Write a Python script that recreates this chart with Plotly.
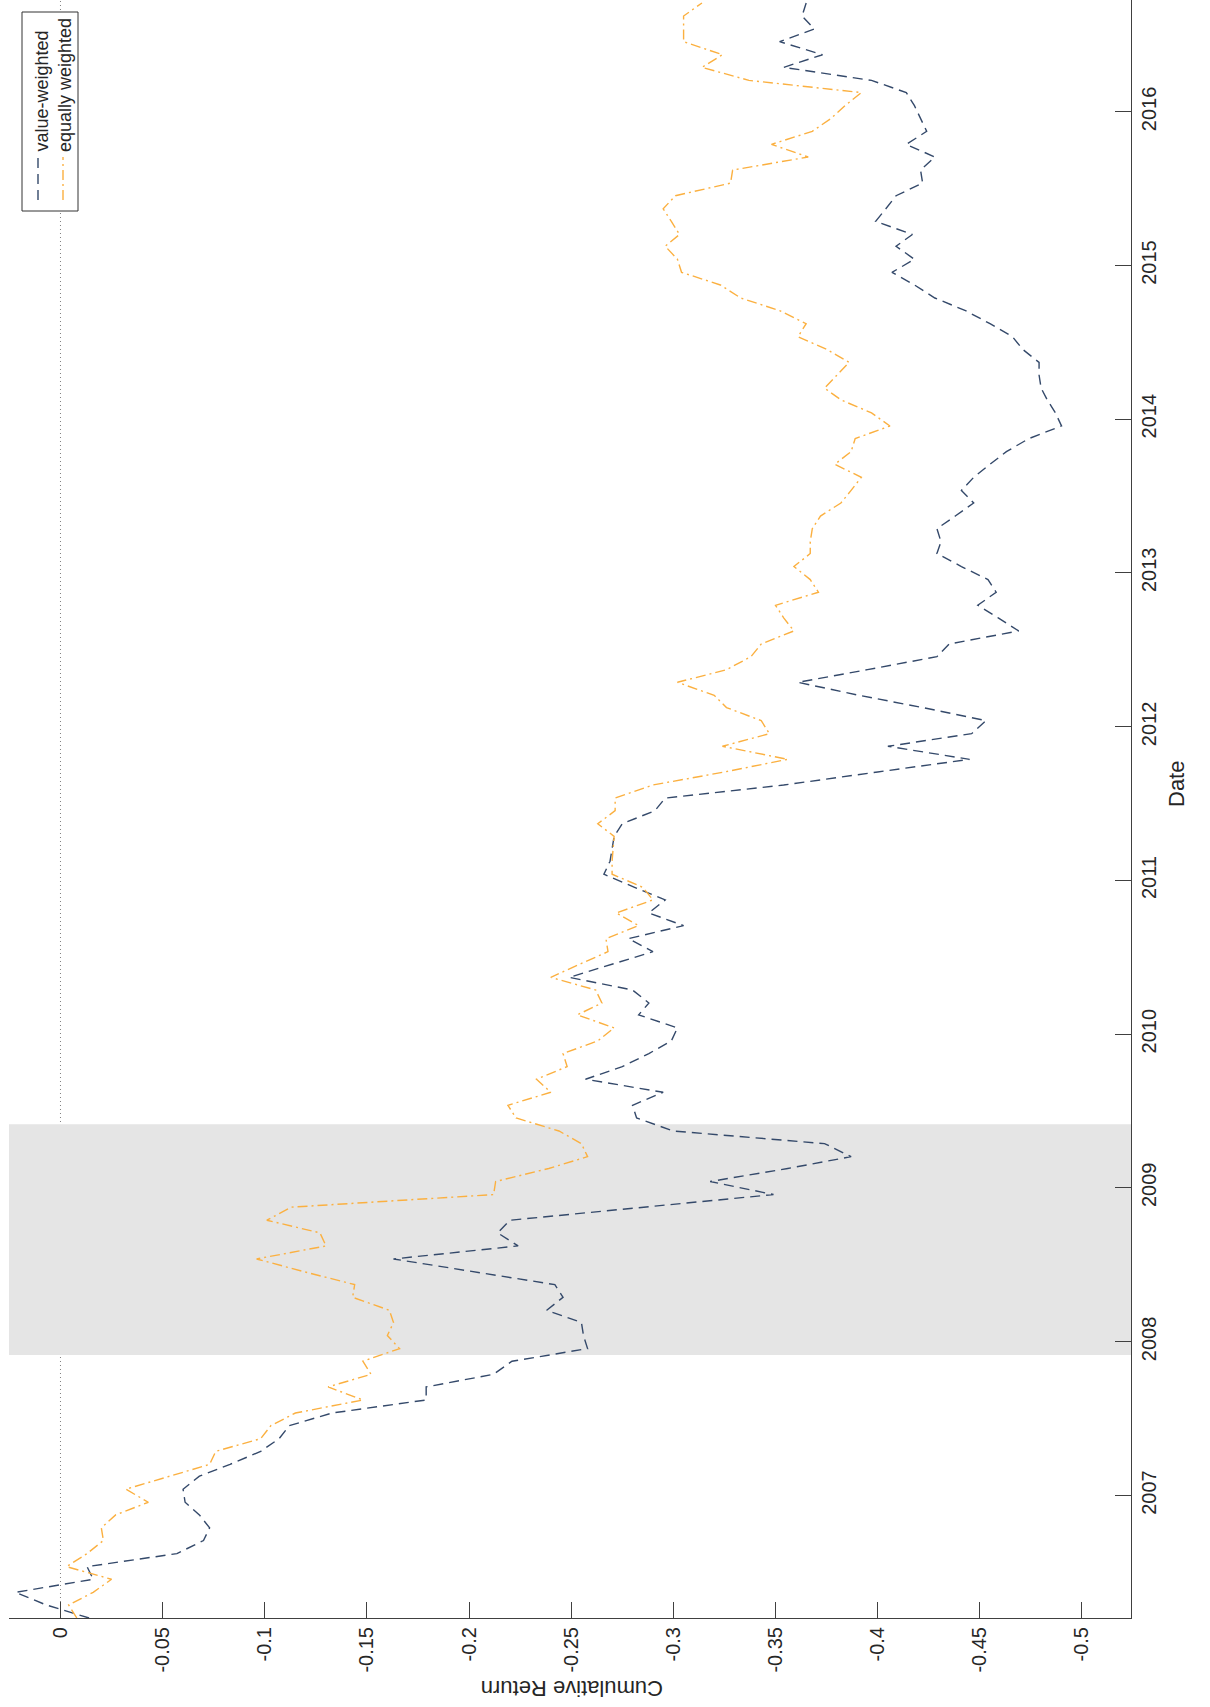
import pandas as pd
import plotly.graph_objects as go

# ---------------- data ----------------
start_month = "2006-03-01"          # first monthly observation (mid-month)

value_weighted = [
    -0.014, 0.007, 0.022, -0.016, -0.013, -0.057, -0.070, -0.073, -0.068, -0.061,
    -0.060, -0.068, -0.083, -0.098, -0.107, -0.112, -0.133, -0.179, -0.179, -0.212,
    -0.221, -0.258, -0.256, -0.255, -0.238, -0.246, -0.242, -0.201, -0.163, -0.224,
    -0.214, -0.220, -0.287, -0.349, -0.318, -0.356, -0.387, -0.374, -0.300, -0.282,
    -0.280, -0.295, -0.257, -0.275, -0.288, -0.299, -0.302, -0.283, -0.288, -0.280,
    -0.249, -0.270, -0.290, -0.278, -0.305, -0.288, -0.296, -0.281, -0.266, -0.269,
    -0.270, -0.271, -0.275, -0.291, -0.296, -0.354, -0.400, -0.445, -0.405, -0.446,
    -0.453, -0.422, -0.391, -0.361, -0.395, -0.429, -0.435, -0.469, -0.459, -0.449,
    -0.458, -0.454, -0.441, -0.429, -0.431, -0.429, -0.438, -0.447, -0.441, -0.447,
    -0.455, -0.463, -0.474, -0.490, -0.487, -0.483, -0.480, -0.479, -0.479, -0.471,
    -0.466, -0.455, -0.443, -0.428, -0.418, -0.407, -0.418, -0.409, -0.417, -0.399,
    -0.404, -0.409, -0.422, -0.421, -0.428, -0.414, -0.424, -0.421, -0.418, -0.414,
    -0.397, -0.354, -0.373, -0.352, -0.369, -0.363, -0.365,
]

equally_weighted = [
    -0.008, -0.004, -0.016, -0.025, -0.003, -0.013, -0.021, -0.020, -0.027, -0.043,
    -0.032, -0.053, -0.073, -0.076, -0.098, -0.103, -0.115, -0.148, -0.131, -0.152,
    -0.148, -0.166, -0.160, -0.163, -0.161, -0.143, -0.144, -0.119, -0.096, -0.130,
    -0.127, -0.101, -0.113, -0.212, -0.213, -0.239, -0.258, -0.255, -0.244, -0.223,
    -0.219, -0.240, -0.233, -0.248, -0.246, -0.263, -0.271, -0.253, -0.265, -0.262,
    -0.240, -0.254, -0.268, -0.267, -0.283, -0.272, -0.290, -0.285, -0.270, -0.270,
    -0.2705, -0.271, -0.263, -0.2715, -0.2715, -0.290, -0.325, -0.356, -0.324, -0.347,
    -0.343, -0.326, -0.320, -0.302, -0.326, -0.338, -0.343, -0.359, -0.354, -0.350,
    -0.371, -0.367, -0.359, -0.367, -0.367, -0.368, -0.372, -0.382, -0.387, -0.392,
    -0.379, -0.387, -0.389, -0.406, -0.397, -0.382, -0.374, -0.380, -0.386, -0.375,
    -0.361, -0.365, -0.352, -0.333, -0.323, -0.304, -0.302, -0.296, -0.303, -0.299,
    -0.295, -0.301, -0.328, -0.329, -0.366, -0.348, -0.368, -0.377, -0.384, -0.392,
    -0.337, -0.314, -0.324, -0.305, -0.305, -0.305, -0.314,
]

recession = ["2007-12-01", "2009-06-01"]
return_ticks = [0, -0.05, -0.1, -0.15, -0.2, -0.25, -0.3, -0.35, -0.4, -0.45, -0.5]
return_tick_labels = ["0", "-0.05", "-0.1", "-0.15", "-0.2", "-0.25", "-0.3",
                      "-0.35", "-0.4", "-0.45", "-0.5"]
date_limits = ["2006-03-16", "2016-09-23"]
return_limits = [0.0252, -0.524]

dates = pd.date_range(start_month, periods=len(value_weighted), freq="MS") + pd.Timedelta(days=15)

# ---------------- styling ----------------
W, H = 1210, 1707
L, R, T, B = 9, 1131, 0, 1618          # plot area in pixels
BLUE = "#34496A"
ORANGE = "#FBB040"
AX = "#404040"
TXT = "#262626"
FONT = "Liberation Sans, Arial, Helvetica, sans-serif"


def px(x):
    return (x - L) / (R - L)


def py(y):
    return (B - y) / (B - T)


fig = go.Figure()
fig.add_trace(go.Scatter(x=value_weighted, y=dates, mode="lines", name="value-weighted",
                         line=dict(color=BLUE, width=1.4, dash="10px,6px"),
                         showlegend=False))
fig.add_trace(go.Scatter(x=equally_weighted, y=dates, mode="lines", name="equally weighted",
                         line=dict(color=ORANGE, width=1.4, dash="10px,4px,2px,4px"),
                         showlegend=False))

shapes = [
    # zero reference line
    dict(type="line", xref="x", yref="paper", x0=0, x1=0, y0=0, y1=1,
         line=dict(color="#808080", width=1, dash="1px,3px"), layer="below"),
    # recession band
    dict(type="rect", xref="paper", yref="y", x0=0, x1=1, y0=recession[0], y1=recession[1],
         fillcolor="#E5E5E5", line=dict(width=0), layer="below"),
    # legend box
    dict(type="rect", xref="paper", yref="paper", x0=px(22), x1=px(78), y0=py(211), y1=py(12),
         fillcolor="white", line=dict(color="#333333", width=1)),
    dict(type="line", xref="paper", yref="paper", x0=px(38), x1=px(38), y0=py(200), y1=py(157),
         line=dict(color=BLUE, width=1.4, dash="10px,6px")),
    dict(type="line", xref="paper", yref="paper", x0=px(63), x1=px(63), y0=py(200), y1=py(157),
         line=dict(color=ORANGE, width=1.4, dash="10px,4px,2px,4px")),
]

annotations = [
    dict(text="Date", xref="paper", yref="paper", x=px(1177), y=py(784), textangle=-90,
         showarrow=False, xanchor="center", yanchor="middle",
         font=dict(family=FONT, size=22, color=TXT)),
    dict(text="Cumulative Return", xref="paper", yref="paper", x=px(572), y=py(1688),
         textangle=180, showarrow=False, xanchor="center", yanchor="middle",
         font=dict(family=FONT, size=22, color=TXT)),
    dict(text="value-weighted", xref="paper", yref="paper", x=px(41), y=py(154),
         textangle=-90, showarrow=False, xanchor="center", yanchor="bottom",
         font=dict(family=FONT, size=18, color=TXT)),
    dict(text="equally weighted", xref="paper", yref="paper", x=px(65), y=py(154),
         textangle=-90, showarrow=False, xanchor="center", yanchor="bottom",
         font=dict(family=FONT, size=18, color=TXT)),
]

fig.update_layout(
    width=W, height=H, autosize=False,
    margin=dict(l=L, r=W - R, t=T, b=H - B, pad=0),
    paper_bgcolor="white", plot_bgcolor="white",
    shapes=shapes, annotations=annotations,
    font=dict(family=FONT, size=20, color=TXT),
    xaxis=dict(range=return_limits, tickmode="array", tickvals=return_ticks,
               ticktext=return_tick_labels, tickangle=-90, ticks="inside", ticklen=16,
               tickwidth=1, tickcolor=AX, showline=True, linecolor=AX, linewidth=1,
               showgrid=False, zeroline=False, mirror=False,
               tickfont=dict(family=FONT, size=20, color=TXT)),
    yaxis=dict(type="date", range=date_limits, side="right", tickformat="%Y",
               dtick="M12", tick0="2007-01-01", tickangle=-90, ticks="inside",
               ticklen=16, tickwidth=1, tickcolor=AX, showline=True, linecolor=AX,
               linewidth=1, showgrid=False, zeroline=False, mirror=False,
               tickfont=dict(family=FONT, size=20, color=TXT)),
    showlegend=False,
)

fig.write_html("out.html",
               config={"displayModeBar": False},
               post_script="document.body.style.margin='0px';document.body.style.padding='0px';")
